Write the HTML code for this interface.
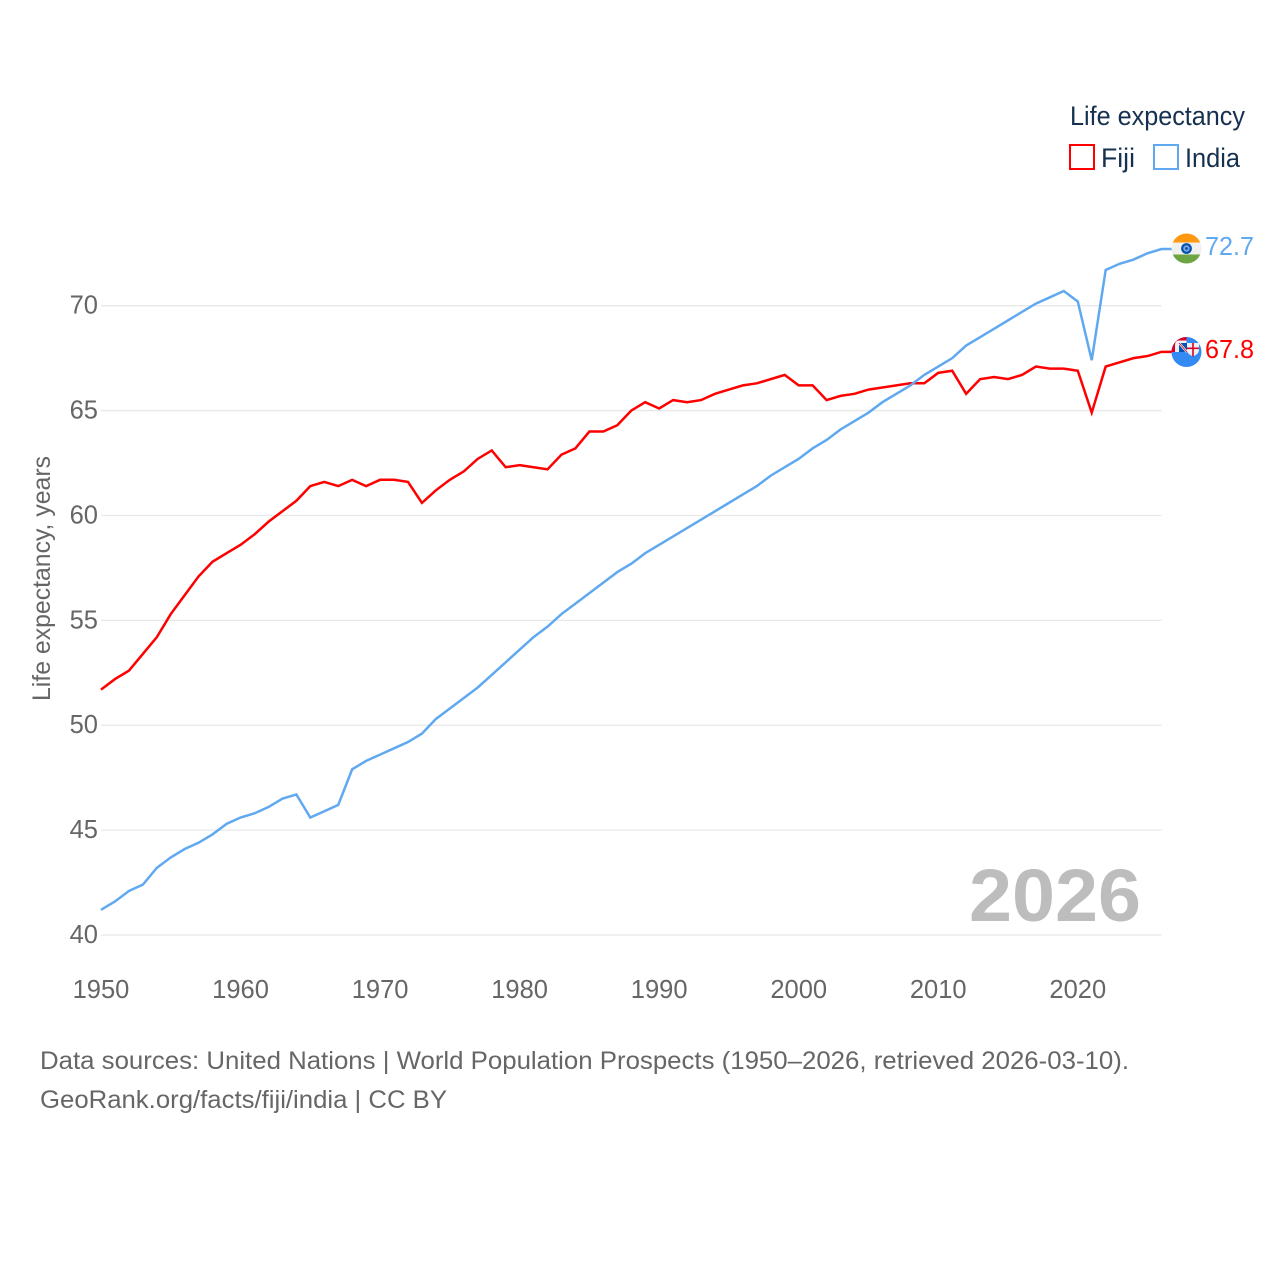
<!DOCTYPE html>
<html lang="en">
<head>
<meta charset="utf-8">
<title>Life expectancy: Fiji and India</title>
<style>
html,body{margin:0;padding:0;background:#fff;}
svg{display:block;font-family:"Liberation Sans",sans-serif;}
</style>
</head>
<body>
<svg id="chart" width="1280" height="1280" viewBox="0 0 1280 1280" xmlns="http://www.w3.org/2000/svg">
  <rect x="0" y="0" width="1280" height="1280" fill="#ffffff"/>
  <defs>
    <clipPath id="india-clip"><circle cx="1186.5" cy="248.5" r="15"/></clipPath>
    <clipPath id="fiji-clip"><circle cx="1186.5" cy="352" r="15"/></clipPath>
  </defs>
  <g id="grid"></g>
  <g id="yticks"></g>
  <g id="xticks"></g>
  <text transform="translate(50,578.5) rotate(-90)" text-anchor="middle" font-size="25" fill="#666666" textLength="245" lengthAdjust="spacingAndGlyphs">Life expectancy, years</text>
  <text x="969" y="921" font-size="74" font-weight="700" fill="#bdbdbd" textLength="172" lengthAdjust="spacingAndGlyphs">2026</text>
  <g id="series"></g>

  <g clip-path="url(#india-clip)">
    <rect x="1170" y="232" width="34" height="11" fill="#ff9811"/>
    <rect x="1170" y="242.5" width="34" height="12" fill="#f0f0f0"/>
    <rect x="1170" y="254.5" width="34" height="11" fill="#6da544"/>
    <circle cx="1186.5" cy="248.5" r="5.4" fill="#0052b4"/>
    <circle cx="1186.5" cy="248.5" r="3.2" fill="#7fa6dc"/>
    <circle cx="1186.5" cy="248.5" r="1.4" fill="#0052b4"/>
  </g>
  <g clip-path="url(#fiji-clip)">
    <rect x="1170" y="335" width="34" height="34" fill="#338af3"/>
    <path d="M1171 352 V336 H1186.5 V352 Z" fill="#d80027"/>
    <path d="M1175 352 V345 Q1175 340.500 1179 340.500 H1186.5 V352 Z" fill="#f0f0f0"/>
    <rect x="1179" y="343" width="8" height="9" fill="#0052b4"/>
    <path d="M1179 343 L1187 352" stroke="#f0f0f0" stroke-width="2.4" fill="none"/>
    <path d="M1179 343 L1187 352" stroke="#d80027" stroke-width="0.8" fill="none"/>
    <path d="M1187 343 H1199 V350 Q1199 354 1193 356.500 Q1187 354 1187 350 Z" fill="#f0f0f0"/>
    <rect x="1192.200" y="343" width="1.600" height="13.500" fill="#d80027"/>
    <rect x="1187" y="347.500" width="12" height="1.600" fill="#d80027"/>
  </g>

  <text x="1205" y="255" font-size="26" fill="#60a9f0" textLength="49" lengthAdjust="spacingAndGlyphs">72.7</text>
  <text x="1205" y="358" font-size="26" fill="#ff0000" textLength="49" lengthAdjust="spacingAndGlyphs">67.8</text>

  <g>
    <text x="1070" y="125" font-size="26.5" fill="#16304f" textLength="175" lengthAdjust="spacingAndGlyphs">Life expectancy</text>
    <g>
      <rect x="1070" y="145" width="24" height="24" fill="none" stroke="#ff0000" stroke-width="2"/>
      <text x="1101" y="167" font-size="26.5" fill="#16304f" textLength="34" lengthAdjust="spacingAndGlyphs">Fiji</text>
    </g>
    <g>
      <rect x="1154" y="145" width="24" height="24" fill="none" stroke="#60a9f0" stroke-width="2"/>
      <text x="1185" y="167" font-size="26.5" fill="#16304f" textLength="55" lengthAdjust="spacingAndGlyphs">India</text>
    </g>
  </g>

  <text x="40" y="1069" font-size="25" fill="#666666" textLength="1089" lengthAdjust="spacingAndGlyphs">Data sources: United Nations | World Population Prospects (1950–2026, retrieved 2026-03-10).</text>
  <text x="40" y="1108" font-size="25" fill="#666666" textLength="407" lengthAdjust="spacingAndGlyphs">GeoRank.org/facts/fiji/india | CC BY</text>
</svg>
<script>
const startYear = 1950;
const xTickYears = [1950, 1960, 1970, 1980, 1990, 2000, 2010, 2020];
const yTickValues = [40, 45, 50, 55, 60, 65, 70];
const fijiValues = [
  51.7, 52.2, 52.6, 53.4, 54.2, 55.3, 56.2, 57.1, 57.8, 58.2,
  58.6, 59.1, 59.7, 60.2, 60.7, 61.4, 61.6, 61.4, 61.7, 61.4,
  61.7, 61.7, 61.6, 60.6, 61.2, 61.7, 62.1, 62.7, 63.1, 62.3,
  62.4, 62.3, 62.2, 62.9, 63.2, 64.0, 64.0, 64.3, 65.0, 65.4,
  65.1, 65.5, 65.4, 65.5, 65.8, 66.0, 66.2, 66.3, 66.5, 66.7,
  66.2, 66.2, 65.5, 65.7, 65.8, 66.0, 66.1, 66.2, 66.3, 66.3,
  66.8, 66.9, 65.8, 66.5, 66.6, 66.5, 66.7, 67.1, 67.0, 67.0,
  66.9, 64.9, 67.1, 67.3, 67.5, 67.6, 67.8
];
const indiaValues = [
  41.2, 41.6, 42.1, 42.4, 43.2, 43.7, 44.1, 44.4, 44.8, 45.3,
  45.6, 45.8, 46.1, 46.5, 46.7, 45.6, 45.9, 46.2, 47.9, 48.3,
  48.6, 48.9, 49.2, 49.6, 50.3, 50.8, 51.3, 51.8, 52.4, 53.0,
  53.6, 54.2, 54.7, 55.3, 55.8, 56.3, 56.8, 57.3, 57.7, 58.2,
  58.6, 59.0, 59.4, 59.8, 60.2, 60.6, 61.0, 61.4, 61.9, 62.3,
  62.7, 63.2, 63.6, 64.1, 64.5, 64.9, 65.4, 65.8, 66.2, 66.7,
  67.1, 67.5, 68.1, 68.5, 68.9, 69.3, 69.7, 70.1, 70.4, 70.7,
  70.2, 67.4, 71.7, 72.0, 72.2, 72.5, 72.7
];

const NS = 'http://www.w3.org/2000/svg';
const plotLeft = 101;
const plotRight = 1161.5;
const pxPerYear = (plotRight - plotLeft) / 76;
const pxPerUnit = (935 - 305.7) / 30;
function xScale(year) { return plotLeft + (year - 1950) * pxPerYear; }
function yScale(value) { return 935 - (value - 40) * pxPerUnit; }

const grid = document.getElementById('grid');
const yticks = document.getElementById('yticks');
const xticks = document.getElementById('xticks');
const seriesGroup = document.getElementById('series');

yTickValues.forEach(function (v) {
  const line = document.createElementNS(NS, 'line');
  
  
  line.setAttribute('x1', plotLeft);
  line.setAttribute('x2', plotRight);
  line.setAttribute('y1', yScale(v));
  line.setAttribute('y2', yScale(v));
  line.setAttribute('stroke', '#e8e8e8');
  line.setAttribute('stroke-width', '1.3');
  grid.appendChild(line);

  const label = document.createElementNS(NS, 'text');
  
  
  label.setAttribute('x', 98);
  label.setAttribute('y', yScale(v) + 8);
  label.setAttribute('text-anchor', 'end');
  label.setAttribute('font-size', '25.5');
  label.setAttribute('fill', '#666666');
  label.textContent = String(v);
  yticks.appendChild(label);
});

xTickYears.forEach(function (year) {
  const label = document.createElementNS(NS, 'text');
  
  
  label.setAttribute('x', xScale(year));
  label.setAttribute('y', 998);
  label.setAttribute('text-anchor', 'middle');
  label.setAttribute('font-size', '25.5');
  label.setAttribute('fill', '#666666');
  label.textContent = String(year);
  xticks.appendChild(label);
});

function drawSeries(values, color, name) {
  const pts = values.map(function (v, i) {
    return xScale(startYear + i).toFixed(2) + ',' + yScale(v).toFixed(2);
  });
  const last = values[values.length - 1];
  pts.push('1172,' + yScale(last).toFixed(2));
  const line = document.createElementNS(NS, 'polyline');
  
  
  line.setAttribute('points', pts.join(' '));
  line.setAttribute('fill', 'none');
  line.setAttribute('stroke', color);
  line.setAttribute('stroke-width', '2.5');
  line.setAttribute('stroke-linejoin', 'miter');
  seriesGroup.appendChild(line);
}
drawSeries(fijiValues, '#ff0000', 'fiji-line');
drawSeries(indiaValues, '#60a9f0', 'india-line');
</script>
</body>
</html>
